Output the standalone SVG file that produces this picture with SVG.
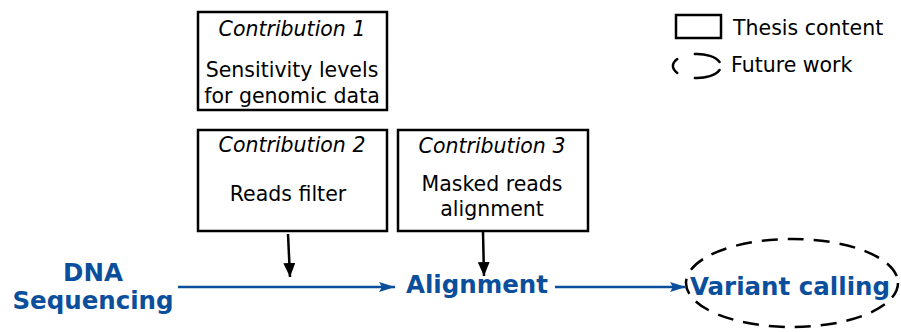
<svg xmlns="http://www.w3.org/2000/svg" width="901" height="332" viewBox="0 0 901 332">
<defs>
<style>
.box{fill:#fff;stroke:#000;stroke-width:2.5}
.t{font-family:"DejaVu Sans",sans-serif;font-size:20.5px;fill:#000;text-anchor:middle}
.i{font-style:italic}
.b{font-family:"DejaVu Sans",sans-serif;font-weight:bold;font-size:24.5px;fill:#0b4f9c;text-anchor:middle}
.lg{font-family:"DejaVu Sans",sans-serif;font-size:20.5px;fill:#000}
.dash{fill:none;stroke:#000;stroke-width:2.5;stroke-dasharray:16 10}
.arc{fill:none;stroke:#000;stroke-width:2.5;stroke-linecap:round}
.blue{stroke:#0b4f9c;stroke-width:2.5;fill:none}
.blk{stroke:#000;stroke-width:2.5;fill:none}
</style>
<marker id="ab" viewBox="0 0 16 10" refX="16" refY="5" markerWidth="16" markerHeight="10" markerUnits="userSpaceOnUse" orient="auto"><path d="M0,0 L16,5 L0,10 L3,5 z" fill="#0b4f9c"/></marker>
<marker id="ak" viewBox="0 0 14 12" refX="14" refY="6" markerWidth="14" markerHeight="12" markerUnits="userSpaceOnUse" orient="auto"><path d="M0,0 L14,6 L0,12 z" fill="#000"/></marker>
</defs>
<g id="legend">
<rect x="676" y="15" width="45" height="23" fill="#fff" stroke="#000" stroke-width="2.5"/>
<text class="lg" x="733" y="35">Thesis content</text>
<path class="arc" d="M677.3,72.9 A24,12 0 0 1 677.3,59.1"/>
<path class="arc" d="M694.9,54.05 A24,12 0 0 1 719.55,61.9"/>
<path class="arc" d="M719.55,70.1 A24,12 0 0 1 694.9,77.95"/>
<text class="lg" x="731" y="72">Future work</text>
</g>
<g id="c1">
<rect class="box" x="198" y="12" width="189" height="98"/>
<text class="t i" x="292" y="36">Contribution 1</text>
<text class="t" x="292" y="77">Sensitivity levels</text>
<text class="t" x="292" y="103">for genomic data</text>
</g>
<g id="c2">
<rect class="box" x="198" y="130" width="189" height="101"/>
<text class="t i" x="292" y="152">Contribution 2</text>
<text class="t" x="288" y="201">Reads filter</text>
</g>
<g id="c3">
<rect class="box" x="398" y="130" width="190" height="101"/>
<text class="t i" x="492" y="153">Contribution 3</text>
<text class="t" x="492" y="191">Masked reads</text>
<text class="t" x="492" y="216">alignment</text>
</g>
<g id="dna">
<text class="b" x="93" y="281">DNA</text>
<text class="b" x="93" y="309">Sequencing</text>
</g>
<g id="alignment">
<text class="b" x="477" y="293">Alignment</text>
</g>
<g id="variant">
<ellipse cx="792" cy="283" rx="106" ry="44" class="dash"/>
<text class="b" x="790" y="295">Variant calling</text>
</g>
<g id="connectors">
<line class="blue" x1="178" y1="287" x2="395" y2="287" marker-end="url(#ab)"/>
<line class="blue" x1="555" y1="287" x2="686" y2="287" marker-end="url(#ab)"/>
<line class="blk" x1="288" y1="234" x2="290" y2="277" marker-end="url(#ak)"/>
<line class="blk" x1="483" y1="232" x2="484" y2="276" marker-end="url(#ak)"/>
</g>
</svg>
